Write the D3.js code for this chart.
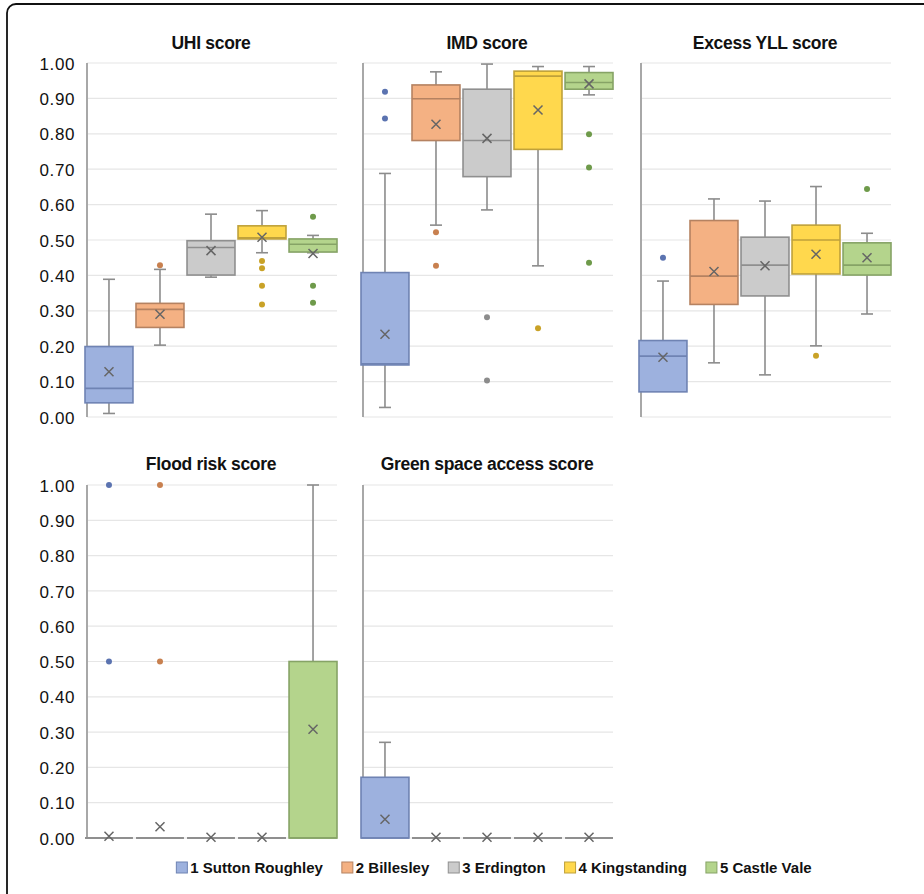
<!DOCTYPE html>
<html>
<head>
<meta charset="utf-8">
<script src="https://cdn.jsdelivr.net/npm/d3@7"></script>
<style>
  body { margin: 0; background: #fff; }
  svg { display: block; font-family: "Liberation Sans", Arial, sans-serif; }
</style>
</head>
<body>
<div id="chart"></div>
<script>
// Series (one per neighbourhood)
const categories = ['1 Sutton Roughley', '2 Billesley', '3 Erdington', '4 Kingstanding', '5 Castle Vale'];
const fills = ['#9db1de', '#f4b183', '#cbcbcb', '#ffd84d', '#b4d48c'];
const borders = ['#6f83b3', '#b58261', '#8f8f8f', '#bfa13a', '#86a366'];
const dotColors = ['#5b73b0', '#c8804f', '#8c8c8c', '#c9a227', '#6e9a4a'];

const yTicks = [0, 0.1, 0.2, 0.3, 0.4, 0.5, 0.6, 0.7, 0.8, 0.9, 1.0];

// [whisker low, Q1, median, Q3, whisker high, mean]
const uhiStats = [
    [0.010, 0.040, 0.081, 0.199, 0.389, 0.128],
    [0.203, 0.253, 0.304, 0.321, 0.417, 0.290],
    [0.395, 0.401, 0.479, 0.498, 0.573, 0.470],
    [0.464, 0.503, 0.506, 0.540, 0.583, 0.508],
    [0.464, 0.466, 0.488, 0.503, 0.513, 0.462]
];
const uhiOutliers = [[], [0.429], [], [0.441, 0.420, 0.371, 0.318], [0.566, 0.371, 0.323]];

const imdStats = [
    [0.027, 0.147, 0.150, 0.408, 0.688, 0.234],
    [0.542, 0.781, 0.899, 0.938, 0.975, 0.827],
    [0.585, 0.679, 0.781, 0.926, 0.997, 0.787],
    [0.427, 0.756, 0.963, 0.977, 0.990, 0.867],
    [0.910, 0.926, 0.945, 0.973, 0.990, 0.941]
];
const imdOutliers = [[0.919, 0.843], [0.522, 0.427], [0.282, 0.103], [0.251], [0.799, 0.705, 0.436]];

const yllStats = [
    [0.071, 0.071, 0.172, 0.216, 0.384, 0.169],
    [0.153, 0.318, 0.398, 0.555, 0.616, 0.411],
    [0.119, 0.342, 0.429, 0.508, 0.610, 0.427],
    [0.201, 0.404, 0.500, 0.542, 0.651, 0.460],
    [0.291, 0.401, 0.429, 0.492, 0.519, 0.450]
];
const yllOutliers = [[0.450], [], [], [0.173], [0.644]];

const floodStats = [
    [0, 0, 0, 0, 0, 0.005],
    [0, 0, 0, 0, 0, 0.032],
    [0, 0, 0, 0, 0, 0.002],
    [0, 0, 0, 0, 0, 0.002],
    [0, 0, 0, 0.5, 1.0, 0.308]
];
const floodOutliers = [[1.0, 0.5], [1.0, 0.5], [], [], []];

const greenStats = [
    [0, 0, 0, 0.172, 0.271, 0.053],
    [0, 0, 0, 0, 0, 0.002],
    [0, 0, 0, 0, 0, 0.002],
    [0, 0, 0, 0, 0, 0.002],
    [0, 0, 0, 0, 0, 0.002]
];
const greenOutliers = [[], [], [], [], []];

const panels = [
    { title: 'UHI score', stats: uhiStats, outliers: uhiOutliers, col: 0, row: 0 },
    { title: 'IMD score', stats: imdStats, outliers: imdOutliers, col: 1, row: 0 },
    { title: 'Excess YLL score', stats: yllStats, outliers: yllOutliers, col: 2, row: 0 },
    { title: 'Flood risk score', stats: floodStats, outliers: floodOutliers, col: 0, row: 1 },
    { title: 'Green space access score', stats: greenStats, outliers: greenOutliers, col: 1, row: 1 }
];

const width = 924, height = 894;
const colX = [85, 361, 639];
const panelW = 252;
const rows = [
    { top: 63, bottom: 417, titleY: 49 },
    { top: 485, bottom: 838, titleY: 470 }
];

const svg = d3.select('#chart').append('svg')
    .attr('width', width)
    .attr('height', height);

// outer frame (right and bottom edges run off the picture)
svg.append('rect')
    .attr('x', 7).attr('y', 4)
    .attr('width', 1000).attr('height', 1000)
    .attr('rx', 9)
    .attr('fill', 'none')
    .attr('stroke', '#111')
    .attr('stroke-width', 1.8);

panels.forEach(p => {
    const x0 = colX[p.col];
    const r = rows[p.row];
    const g = svg.append('g');

    const y = d3.scaleLinear().domain([0, 1]).range([r.bottom, r.top]);
    const x = d3.scaleBand()
        .domain(categories)
        .range([x0, x0 + panelW])
        .paddingInner(0.06)
        .paddingOuter(0);

    // gridlines
    g.append('g').selectAll('line')
        .data(yTicks)
        .join('line')
        .attr('x1', x0 + 2).attr('x2', x0 + panelW)
        .attr('y1', d => y(d)).attr('y2', d => y(d))
        .attr('stroke', '#e6e6e6')
        .attr('stroke-width', 1.2);

    // y axis labels (first column only)
    if (p.col === 0) {
        const axis = d3.axisLeft(y).tickValues(yTicks).tickFormat(d3.format('.2f')).tickSize(0).tickPadding(0);
        const ax = g.append('g')
            .attr('transform', `translate(${x0 - 10},0)`)
            .call(axis);
        ax.select('.domain').remove();
        ax.selectAll('text')
            .attr('fill', '#111')
            .style('font-size', '17px')
            .style('letter-spacing', '0.6px')
            .attr('dy', '0.36em');
    }

    // vertical axis line
    g.append('line')
        .attr('x1', x0 + 2).attr('x2', x0 + 2)
        .attr('y1', r.top).attr('y2', r.bottom)
        .attr('stroke', '#a8a8a8')
        .attr('stroke-width', 2);

    // title
    g.append('text')
        .attr('x', x0 + panelW / 2)
        .attr('y', r.titleY)
        .attr('text-anchor', 'middle')
        .style('font-size', '17.5px')
        .style('font-weight', 'bold')
        .style('letter-spacing', '-0.3px')
        .attr('fill', '#111')
        .text(p.title);

    const bw = x.bandwidth();
    const capW = 12;

    p.stats.forEach((s, i) => {
        const [lo, q1, med, q3, hi, mean] = s;
        const cx = x(categories[i]) + bw / 2;
        const bx = x(categories[i]);
        const box = g.append('g');

        // whiskers
        if (hi > q3) {
            box.append('line').attr('x1', cx).attr('x2', cx).attr('y1', y(q3)).attr('y2', y(hi))
                .attr('stroke', '#8c8c8c').attr('stroke-width', 1.6);
            box.append('line').attr('x1', cx - capW / 2).attr('x2', cx + capW / 2).attr('y1', y(hi)).attr('y2', y(hi))
                .attr('stroke', '#8c8c8c').attr('stroke-width', 1.6);
        }
        if (lo < q1) {
            box.append('line').attr('x1', cx).attr('x2', cx).attr('y1', y(q1)).attr('y2', y(lo))
                .attr('stroke', '#8c8c8c').attr('stroke-width', 1.6);
            box.append('line').attr('x1', cx - capW / 2).attr('x2', cx + capW / 2).attr('y1', y(lo)).attr('y2', y(lo))
                .attr('stroke', '#8c8c8c').attr('stroke-width', 1.6);
        }

        if (q3 > q1) {
            box.append('rect')
                .attr('x', bx).attr('y', y(q3))
                .attr('width', bw).attr('height', y(q1) - y(q3))
                .attr('fill', fills[i])
                .attr('stroke', borders[i])
                .attr('stroke-width', 1.6);
            box.append('line')
                .attr('x1', bx).attr('x2', bx + bw)
                .attr('y1', y(med)).attr('y2', y(med))
                .attr('stroke', borders[i])
                .attr('stroke-width', 1.6);
        } else {
            // flat box: all quartiles equal
            box.append('line')
                .attr('x1', bx).attr('x2', bx + bw)
                .attr('y1', y(q1)).attr('y2', y(q1))
                .attr('stroke', '#8f8f8f')
                .attr('stroke-width', 2);
        }

        // mean marker
        const m = 4.5;
        box.append('path')
            .attr('d', `M${cx - m},${y(mean) - m}L${cx + m},${y(mean) + m}M${cx - m},${y(mean) + m}L${cx + m},${y(mean) - m}`)
            .attr('stroke', '#666')
            .attr('stroke-width', 1.5)
            .attr('fill', 'none');

        // outliers
        box.selectAll('circle')
            .data(p.outliers[i])
            .join('circle')
            .attr('cx', cx)
            .attr('cy', d => y(d))
            .attr('r', 3)
            .attr('fill', dotColors[i]);
    });
});

// legend
const legend = svg.append('g').attr('class', 'legend');
const legendGap = 19;
let lx = 0;
categories.forEach((c, i) => {
    const item = legend.append('g').attr('transform', `translate(${lx},0)`);
    item.append('rect')
        .attr('x', 0).attr('y', 862)
        .attr('width', 11).attr('height', 11)
        .attr('fill', fills[i])
        .attr('stroke', borders[i])
        .attr('stroke-width', 1);
    const t = item.append('text')
        .attr('x', 14).attr('y', 873)
        .style('font-size', '15px')
        .style('font-weight', 'bold')
        .attr('fill', '#111')
        .text(c);
    lx += 14 + t.node().getComputedTextLength() + legendGap;
});
const legendW = lx - legendGap;
legend.attr('transform', `translate(${494 - legendW / 2},0)`);
</script>
</body>
</html>
